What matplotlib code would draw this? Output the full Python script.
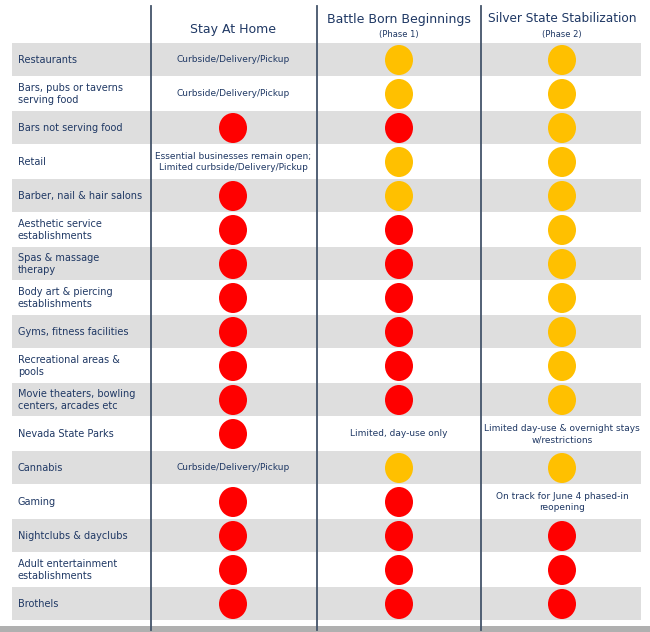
import matplotlib.pyplot as plt
from matplotlib.patches import Ellipse, Rectangle

categories = ["Restaurants", "Bars, pubs or taverns\nserving food", "Bars not serving food", "Retail",
              "Barber, nail & hair salons", "Aesthetic service\nestablishments", "Spas & massage\ntherapy",
              "Body art & piercing\nestablishments", "Gyms, fitness facilities", "Recreational areas &\npools",
              "Movie theaters, bowling\ncenters, arcades etc", "Nevada State Parks", "Cannabis", "Gaming",
              "Nightclubs & dayclubs", "Adult entertainment\nestablishments", "Brothels"]

# R = red dot, Y = yellow dot, anything else is printed as text
stay_at_home = ["Curbside/Delivery/Pickup", "Curbside/Delivery/Pickup", "R",
                "Essential businesses remain open;\nLimited curbside/Delivery/Pickup",
                "R", "R", "R", "R", "R", "R", "R", "R", "Curbside/Delivery/Pickup", "R", "R", "R", "R"]
phase1 = ["Y", "Y", "R", "Y", "Y", "R", "R", "R", "R", "R", "R", "Limited, day-use only", "Y", "R", "R", "R", "R"]
phase2 = ["Y", "Y", "Y", "Y", "Y", "Y", "Y", "Y", "Y", "Y", "Y",
          "Limited day-use & overnight stays\nw/restrictions", "Y",
          "On track for June 4 phased-in\nreopening", "R", "R", "R"]

navy = "#1f3864"
colors = {"R": "#ff0000", "Y": "#ffc000"}

fig = plt.figure(figsize=(6.5, 6.32), dpi=100)
ax = fig.add_axes([0, 0, 1, 1])
ax.set_xlim(0, 650)
ax.set_ylim(632, 0)
ax.axis("off")

top, row_h = 43, 34.0
col_x = [233, 399, 562]
vlines = [151, 317, 481]

for i, cat in enumerate(categories):
    y0 = top + i * row_h
    if i % 2 == 0:
        ax.add_patch(Rectangle((12, y0), 629, row_h - 1.5, color="#dedede", lw=0))
    yc = y0 + row_h / 2
    ax.text(18, yc, cat, color=navy, fontsize=7, va="center", ha="left", linespacing=1.3)
    for cx, val in zip(col_x, [stay_at_home[i], phase1[i], phase2[i]]):
        if val in colors:
            ax.add_patch(Ellipse((cx, yc), 28, 30, color=colors[val], lw=0))
        else:
            ax.text(cx, yc, val, color=navy, fontsize=6.5, va="center", ha="center", linespacing=1.4)

for vx in vlines:
    ax.plot([vx, vx], [6, 630], color="#44546a", lw=1.3)

ax.text(233, 29, "Stay At Home", color=navy, fontsize=9, ha="center", va="center")
ax.text(399, 19, "Battle Born Beginnings", color=navy, fontsize=9, ha="center", va="center")
ax.text(399, 34, "(Phase 1)", color=navy, fontsize=6, ha="center", va="center")
ax.text(562, 19, "Silver State Stabilization", color=navy, fontsize=8.7, ha="center", va="center")
ax.text(562, 34, "(Phase 2)", color=navy, fontsize=6, ha="center", va="center")

ax.add_patch(Rectangle((0, 626), 650, 6, color="#b0b0b0", lw=0))

fig.savefig("out.png", dpi=100)
